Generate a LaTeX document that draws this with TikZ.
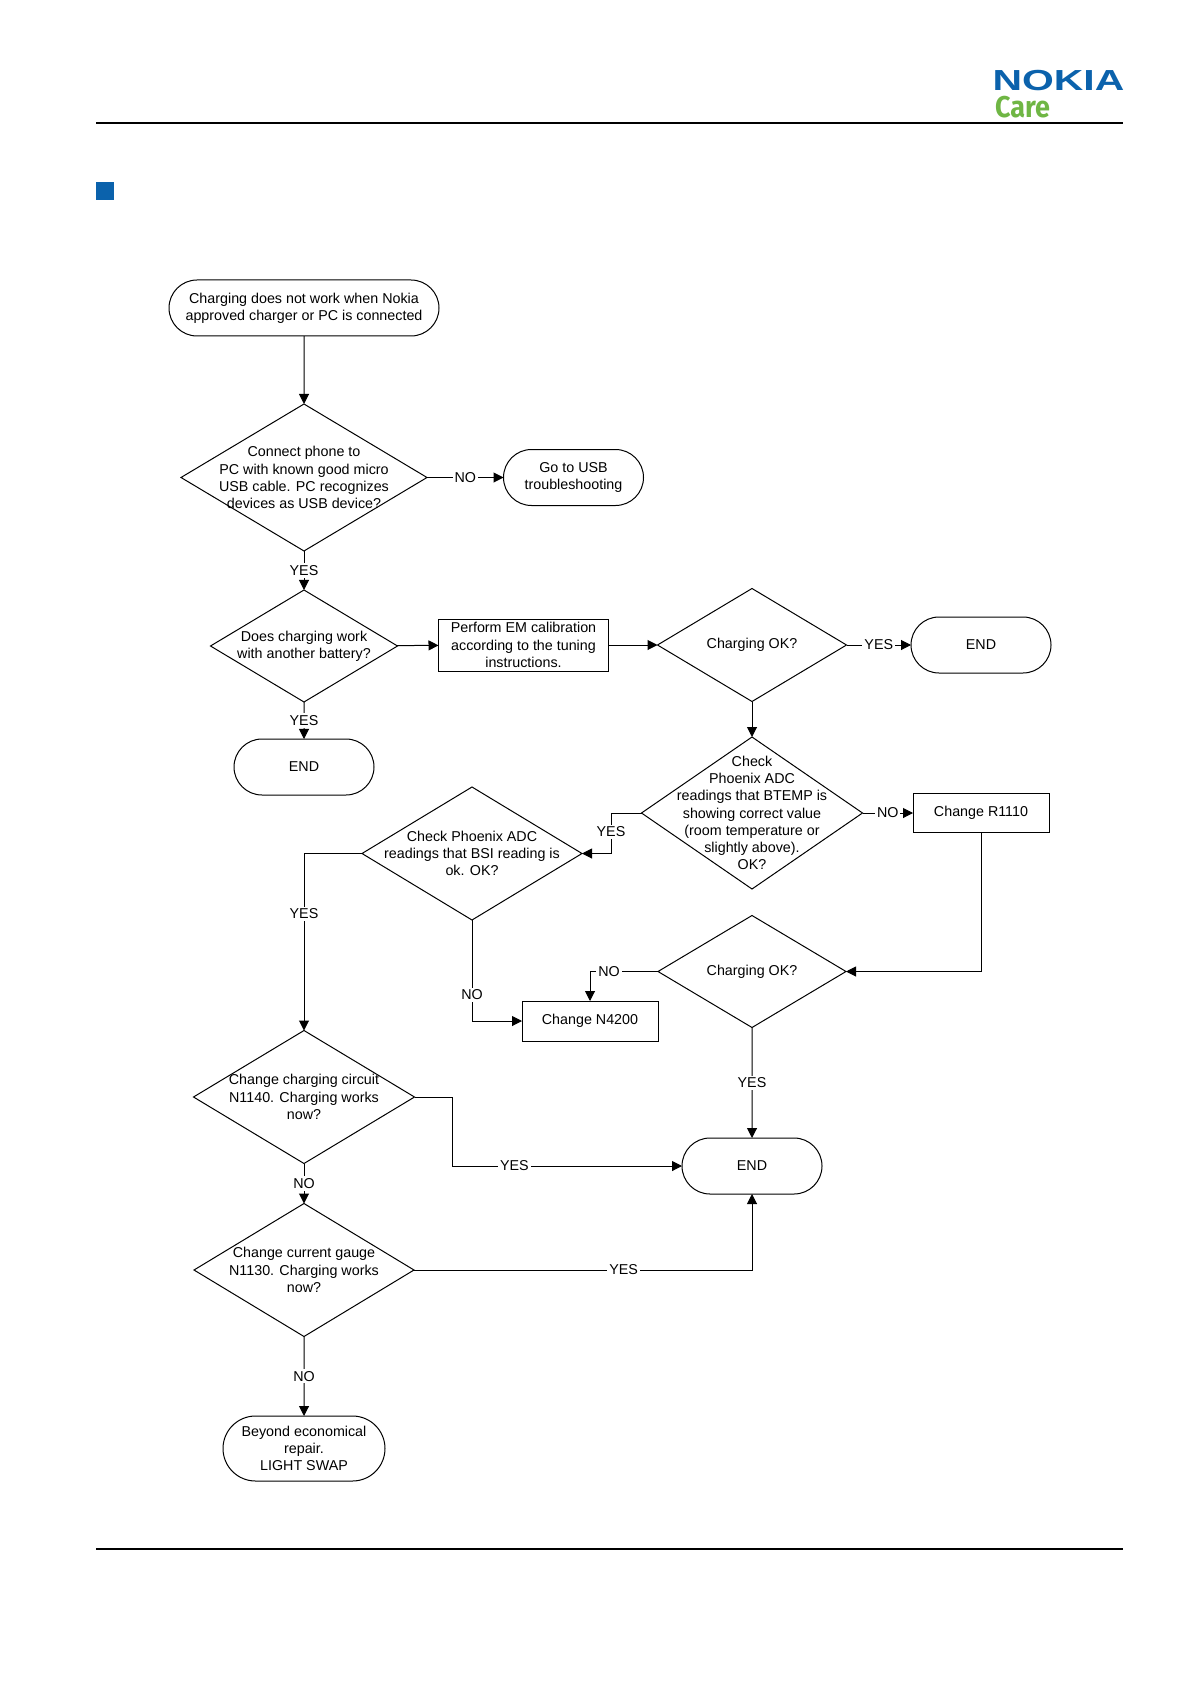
\documentclass[tikz,border=0pt]{standalone}
\usepackage{fontspec}
\setmainfont{Liberation Sans}
\newfontfamily\carefont{Fira Sans}
\usetikzlibrary{shapes,arrows.meta}
\definecolor{nokiablue}{HTML}{0B62AC}
\definecolor{caregreen}{HTML}{6FB644}
\begin{document}
\begin{tikzpicture}[x=0.5pt,y=-0.5pt,
  every node/.style = {font=\fontsize{7.15}{8.6}\selectfont, align=center, outer sep=0pt},
  terminal/.style = {shape=rounded rectangle, draw, minimum width=70pt, minimum height=28pt, inner sep=0pt},
  procbox/.style = {shape=rectangle, draw, inner sep=0pt},
  decision/.style = {shape=diamond, draw, inner sep=0pt},
  flow/.style = {draw, line width=0.5pt, -{Triangle[length=5pt,width=5pt]}},
  edgelabel/.style = {fill=white, inner sep=1pt},
  line width=0.5pt]
  \useasboundingbox (0,0) rectangle (1191,1684);
  % page furniture
  \draw[line width=1pt] (96,123) -- (1123,123);
  \draw[line width=1pt] (96,1549) -- (1123,1549);
  \node[fill=nokiablue, minimum size=9pt, inner sep=0pt] (bullet) at (105,191.5) {};
  \node[font=\fontsize{14.5}{14.5}\bfseries, text=nokiablue, xscale=1.41, inner sep=0pt] (nokia) at (1058.5,80.5) {NOKIA};
  \node[font=\fontsize{15}{15}\carefont\bfseries, text=caregreen, xscale=.9, inner sep=0pt, anchor=base west] (care) at (995,118) {Care};
  % left column
  \node[terminal, minimum width=135pt] (start) at (304,308) {Charging does not work when Nokia\\approved charger or PC is connected};
  \node[decision, minimum width=123pt, minimum height=73.5pt,
    label={center:Connect phone to\\PC with known good micro\\USB cable. PC recognizes\\devices as USB device?}] (usbcheck) at (304,477.5) {};
  \node[terminal] (usbgoto) at (573.5,477.5) {Go to USB\\troubleshooting};
  \node[decision, minimum width=93.5pt, minimum height=56pt,
    label={center:Does charging work\\with another battery?}] (battery) at (304,646) {};
  \node[terminal] (endbat) at (304,767) {END};
  \node[decision, minimum width=110.5pt, minimum height=66.5pt,
    label={center:Change charging circuit\\N1140. Charging works\\now?}] (nbig) at (304,1097) {};
  \node[decision, minimum width=110pt, minimum height=66.5pt,
    label={center:Change current gauge\\N1130. Charging  works\\now?}] (gauge) at (304,1270) {};
  \node[terminal, minimum width=81pt, minimum height=32.5pt] (swap) at (304,1448.5) {Beyond economical\\repair.\\LIGHT SWAP};
  % middle and right
  \node[procbox, minimum width=85pt, minimum height=26pt] (calib) at (523.5,645) {Perform EM calibration\\according to the tuning\\instructions.};
  \node[decision, minimum width=94.5pt, minimum height=56.5pt,
    label={center:Charging OK?}] (okone) at (752,645) {};
  \node[terminal] (endok) at (981,645) {END};
  \node[decision, minimum width=110.5pt, minimum height=76pt,
    label={center:Check\\Phoenix ADC\\readings that BTEMP is\\showing correct value\\(room temperature or\\slightly above).\\OK?}] (btemp) at (752,813) {};
  \node[procbox, minimum width=68pt, minimum height=19.5pt] (rchange) at (981,813) {Change R1110};
  \node[decision, minimum width=110pt, minimum height=66.5pt,
    label={center:Check Phoenix ADC\\readings that BSI reading is\\ok. OK?}] (bsi) at (472,853.5) {};
  \node[decision, minimum width=94pt, minimum height=56pt,
    label={center:Charging OK?}] (oktwo) at (752,971.5) {};
  \node[procbox, minimum width=68pt, minimum height=20pt] (nchange) at (590,1021) {Change N4200};
  \node[terminal] (endall) at (752,1166) {END};
  % connectors
  \coordinate (btempturn) at (611,832);
  \coordinate (nbigturn) at (452.5,1166);
  \draw[flow] (start) -- (usbcheck);
  \draw[flow] (usbcheck) -- node[edgelabel] (lblusbno) {NO} (usbgoto);
  \draw[flow] (usbcheck) -- node[edgelabel] (lblusbyes) {YES} (battery);
  \draw[flow] (battery) -- (calib);
  \draw[flow] (battery) -- node[edgelabel] (lblbatyes) {YES} (endbat);
  \draw[flow] (calib) -- (okone);
  \draw[flow] (okone) -- node[edgelabel] (lbloneyes) {YES} (endok);
  \draw[flow] (okone) -- (btemp);
  \draw[flow] (btemp) -- node[edgelabel] (lblbtempno) {NO} (rchange);
  \draw[flow] (btemp.west) -| (btempturn) node[edgelabel] (lblbtempyes) {YES} |- (bsi.east);
  \draw[flow] (rchange.south) |- (oktwo.east);
  \draw[flow] (oktwo.west) -| node[edgelabel, pos=.36] (lbltwono) {NO} (nchange.north);
  \draw[flow] (oktwo) -- node[edgelabel] (lbltwoyes) {YES} (endall);
  \draw[flow] (bsi.west) -| node[edgelabel, pos=.67] (lblbsiyes) {YES} (nbig.north);
  \draw[flow] (bsi.south) |- node[edgelabel, pos=.37] (lblbsino) {NO} (nchange.west);
  \draw[flow] (nbig.east) -| (nbigturn) -- node[edgelabel, pos=.27] (lblnbigyes) {YES} (endall.west);
  \draw[flow] (nbig) -- node[edgelabel] (lblnbigno) {NO} (gauge);
  \draw[flow] (gauge.east) -| node[edgelabel, pos=.31] (lblgaugeyes) {YES} (endall.south);
  \draw[flow] (gauge) -- node[edgelabel] (lblgaugeno) {NO} (swap);
\end{tikzpicture}
\end{document}
